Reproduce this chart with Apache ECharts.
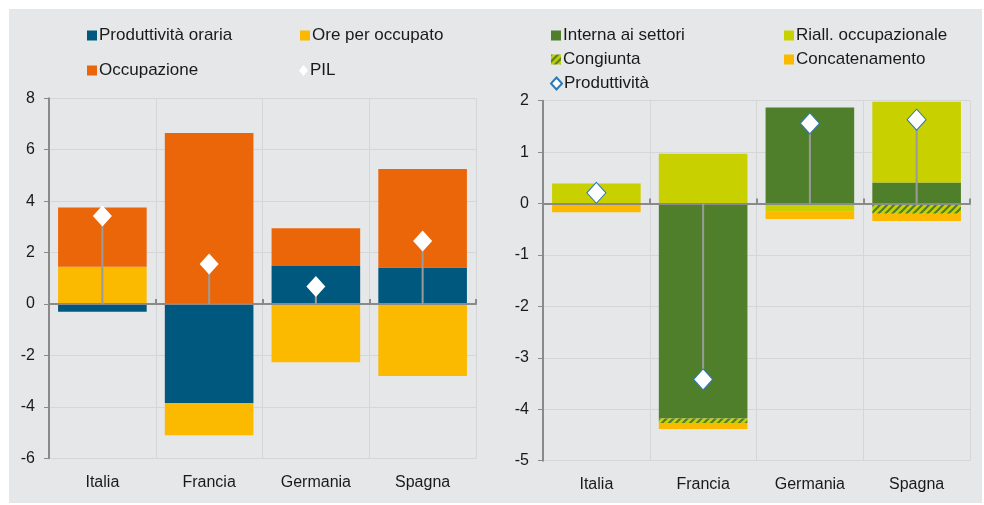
<!DOCTYPE html>
<html>
<head>
<meta charset="utf-8">
<script src="https://cdn.jsdelivr.net/npm/echarts@6/dist/echarts.min.js"></script>
<style>
  html, body { margin: 0; padding: 0; background: #ffffff; }
  #chart { width: 984px; height: 505px; }
</style>
</head>
<body>
<div id="chart"></div>
<script>
// Categories shared by both panels
const categories = ['Italia', 'Francia', 'Germania', 'Spagna'];

// Left panel: contributions to GDP growth
const produttivitaOraria = [-0.3, -3.85, 1.48, 1.42];
const orePerOccupato = [1.45, -1.25, -2.26, -2.8];
const occupazione = [2.3, 6.65, 1.47, 3.83];
const pil = [3.42, 1.56, 0.68, 2.45];

// Right panel: decomposition of productivity growth
const internaSettori = [0, -4.18, 1.87, 0.41];
const riallOccupazionale = [0.39, 0.97, -0.16, 1.57];
const congiunta = [0, -0.085, 0, -0.2];
const concatenamento = [-0.17, -0.12, -0.14, -0.14];
const produttivita = [0.21, -3.42, 1.56, 1.63];

// Axis ranges and tick steps
const leftAxis = { min: -6, max: 8, interval: 2 };
const rightAxis = { min: -5, max: 2, interval: 1 };

const FONT = '"Liberation Sans", Arial, sans-serif';
const TEXT = '#1a1a1a';
const AXIS = '#8a8a8a';
const GRIDLINE = '#d5d6d8';

const C_BLUE = '#00587f';
const C_YELLOW = '#fbb900';
const C_ORANGE = '#eb6609';
const C_GREEN = '#507f2b';
const C_LIME = '#c8d000';

// Diagonal hatch used for the "Congiunta" component
function hatchPattern() {
  const s = 7;
  const c = document.createElement('canvas');
  c.width = s; c.height = s;
  const g = c.getContext('2d');
  g.fillStyle = C_LIME;
  g.fillRect(0, 0, s, s);
  g.strokeStyle = C_GREEN;
  g.lineWidth = 2.2;
  g.beginPath();
  g.moveTo(-1, s + 1); g.lineTo(s + 1, -1);
  g.moveTo(-1, 1); g.lineTo(1, -1);
  g.moveTo(s - 1, s + 1); g.lineTo(s + 1, s - 1);
  g.stroke();
  return { image: c, repeat: 'repeat' };
}

const chart = echarts.init(document.getElementById('chart'), null, { renderer: 'canvas' });

function labelAxis(gridIndex) {
  return {
    type: 'category', gridIndex, data: categories, position: 'bottom',
    axisLine: { show: false, onZero: false },
    axisTick: { show: false },
    axisLabel: { color: TEXT, fontSize: 16, fontFamily: FONT, margin: 16 },
    splitLine: { show: true, lineStyle: { color: GRIDLINE, width: 1 } }
  };
}
// Zero line drawn above the bars
function zeroAxis(gridIndex) {
  return {
    type: 'category', gridIndex, data: categories, z: 5,
    axisLine: { show: true, onZero: true, lineStyle: { color: AXIS, width: 2 } },
    axisTick: { show: true, length: 5, lineStyle: { color: AXIS, width: 2 } },
    axisLabel: { show: false },
    splitLine: { show: false }
  };
}
function valueAxis(gridIndex, r) {
  return {
    type: 'value', gridIndex, min: r.min, max: r.max, interval: r.interval,
    axisLine: { show: true, lineStyle: { color: AXIS, width: 2 } },
    axisTick: { show: true, length: 5, lineStyle: { color: AXIS, width: 1 } },
    axisLabel: { color: TEXT, fontSize: 16, fontFamily: FONT, margin: 14 },
    splitLine: { show: true, lineStyle: { color: GRIDLINE, width: 1 } }
  };
}

function barSeries(name, data, color, xi, yi) {
  return {
    name, type: 'bar', stack: 'tot' + yi, data, xAxisIndex: xi, yAxisIndex: yi,
    barCategoryGap: '17%', itemStyle: { color }, z: 2,
    emphasis: { disabled: true }
  };
}
// Stem from zero up/down to each marker
function stemSeries(values, xi, yi) {
  return {
    type: 'custom', xAxisIndex: xi, yAxisIndex: yi, z: 6, silent: true,
    data: values.map((v, i) => [i, v]),
    encode: { x: 0, y: 1 },
    renderItem(params, api) {
      const a = api.coord([api.value(0), 0]);
      const b = api.coord([api.value(0), api.value(1)]);
      return { type: 'line', shape: { x1: a[0], y1: a[1], x2: b[0], y2: b[1] },
               style: { stroke: '#9b9b9b', lineWidth: 2 } };
    }
  };
}
function markerSeries(name, values, xi, yi, border) {
  return {
    name, type: 'scatter', data: values, xAxisIndex: xi, yAxisIndex: yi, z: 10,
    symbol: 'diamond', symbolSize: [19, 21],
    itemStyle: { color: '#ffffff', borderColor: border, borderWidth: border ? 1 : 0, opacity: 1 },
    emphasis: { disabled: true }
  };
}

function legendItem(name, left, top, opts) {
  return Object.assign({
    data: [name], left, top, padding: 0, selectedMode: false,
    itemWidth: 10, itemHeight: 10, icon: 'rect',
    textStyle: { color: TEXT, fontSize: 17, fontFamily: FONT, padding: [0, 0, 0, -3] }
  }, opts || {});
}

const hatch = hatchPattern();

chart.setOption({
  animation: false,
  backgroundColor: '#ffffff',
  graphic: [{ type: 'rect', z: -10, silent: true,
              shape: { x: 9, y: 9, width: 973, height: 494 },
              style: { fill: '#e6e7e9' } }],
  grid: [
    { left: 49, right: 508, top: 98.3, bottom: 46.7 },
    { left: 543, right: 14, top: 100.7, bottom: 44.3 }
  ],
  legend: [
    legendItem('Produttività oraria', 87, 27),
    legendItem('Ore per occupato', 300, 27),
    legendItem('Occupazione', 87, 62),
    legendItem('PIL', 299, 62, { icon: 'diamond', itemWidth: 9, itemHeight: 11 }),
    legendItem('Interna ai settori', 551, 27),
    legendItem('Riall. occupazionale', 784, 27),
    legendItem('Congiunta', 551, 51),
    legendItem('Concatenamento', 784, 51),
    legendItem('Produttività', 550, 75, { icon: 'diamond', itemWidth: 11, itemHeight: 12 })
  ],
  xAxis: [labelAxis(0), zeroAxis(0), labelAxis(1), zeroAxis(1)],
  yAxis: [valueAxis(0, leftAxis), valueAxis(1, rightAxis)],
  series: [
    barSeries('Produttività oraria', produttivitaOraria, C_BLUE, 0, 0),
    barSeries('Ore per occupato', orePerOccupato, C_YELLOW, 0, 0),
    barSeries('Occupazione', occupazione, C_ORANGE, 0, 0),
    stemSeries(pil, 0, 0),
    markerSeries('PIL', pil, 0, 0, null),

    barSeries('Interna ai settori', internaSettori, C_GREEN, 2, 1),
    barSeries('Riall. occupazionale', riallOccupazionale, C_LIME, 2, 1),
    barSeries('Congiunta', congiunta, hatch, 2, 1),
    barSeries('Concatenamento', concatenamento, C_YELLOW, 2, 1),
    stemSeries(produttivita, 2, 1),
    markerSeries('Produttività', produttivita, 2, 1, '#2f78b4')
  ]
});
</script>
</body>
</html>
